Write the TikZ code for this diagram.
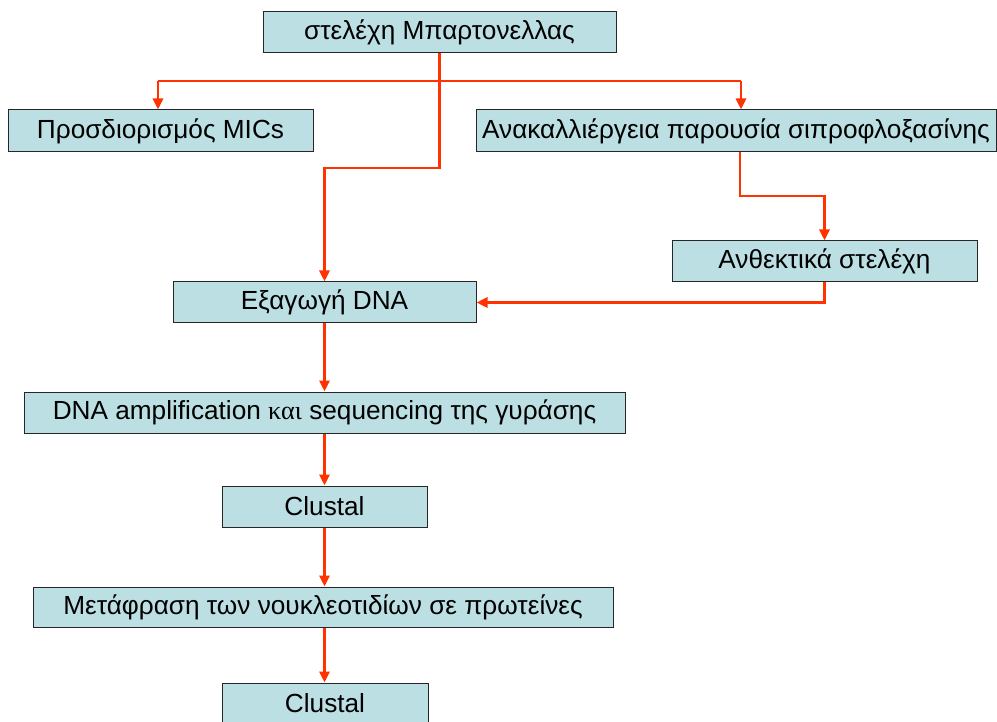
\documentclass[tikz,border=0pt]{standalone}
\usepackage{fontspec}
\setmainfont{Liberation Sans}
\newfontfamily\serifgr{Liberation Serif}
\usetikzlibrary{arrows.meta}
\definecolor{boxfill}{HTML}{BBDFE3}
\definecolor{conncol}{HTML}{FF3300}
\begin{document}
\begin{tikzpicture}[x=1pt,y=1pt,
  stepbox/.style={draw=black!85,line width=1pt,fill=boxfill,inner sep=0pt,
    font=\fontsize{26.2}{30}\selectfont,text=black,anchor=center},
  conn/.style={draw=conncol,line width=2.8pt},
  arr/.style={conn,-{Triangle[length=11pt,width=10pt]}}]
\useasboundingbox (0,0) rectangle (997,-722);
\fill[white] (0,0) rectangle (997,-722);
\node[stepbox,minimum width=353pt,minimum height=41pt] (top) at (439.5,-32.5) {στελέχη Μπαρτονελλας};
\node[stepbox,minimum width=305pt,minimum height=42pt] (mic) at (160.5,-131) {Προσδιορισμός MICs};
\node[stepbox,minimum width=520pt,minimum height=42pt] (ana) at (736,-131) {Ανακαλλιέργεια παρουσία σιπροφλοξασίνης};
\node[stepbox,minimum width=305pt,minimum height=41pt] (anth) at (824.5,-261.5) {Ανθεκτικά στελέχη};
\node[stepbox,minimum width=303pt,minimum height=41pt] (exa) at (324.5,-302.5) {Εξαγωγή DNA};
\node[stepbox,minimum width=601pt,minimum height=41pt] (dna) at (324.5,-412.5) {DNA amplification {\serifgr και} sequencing της γυράσης};
\node[stepbox,minimum width=205pt,minimum height=41pt] (cl1) at (324.5,-506.5) {Clustal};
\node[stepbox,minimum width=580pt,minimum height=40pt] (met) at (323,-607) {Μετάφραση των νουκλεοτιδίων σε πρωτείνες};
\node[stepbox,minimum width=206pt,minimum height=41pt] (cl2) at (325,-703.5) {Clustal};
% junctions
\coordinate (j1) at (439.5,-81);
\coordinate (jl) at (158,-81);
\coordinate (jr) at (741,-81);
\coordinate (j2) at (439.5,-168);
\coordinate (a3) at (740,-152);
\coordinate (j3) at (740,-196);
% connectors
\draw[conn] (top.south) -- (j1);
\draw[conn] (jl) -- (jr);
\draw[arr] (jl) -- (jl |- mic.north);
\draw[arr] (jr) -- (jr |- ana.north);
\draw[arr] (j1) -- (j2) -| (exa.north);
\draw[arr] (a3) -- (j3) -| (anth.north);
\draw[arr] (anth.south) |- (exa.east);
\draw[arr] (exa.south) -- (dna.north);
\draw[arr] (dna.south) -- (cl1.north);
\draw[arr] (cl1.south) -- (cl1.south |- met.north);
\draw[arr] (met.south -| cl1.south) -- (cl1.south |- cl2.north);
\end{tikzpicture}
\end{document}
